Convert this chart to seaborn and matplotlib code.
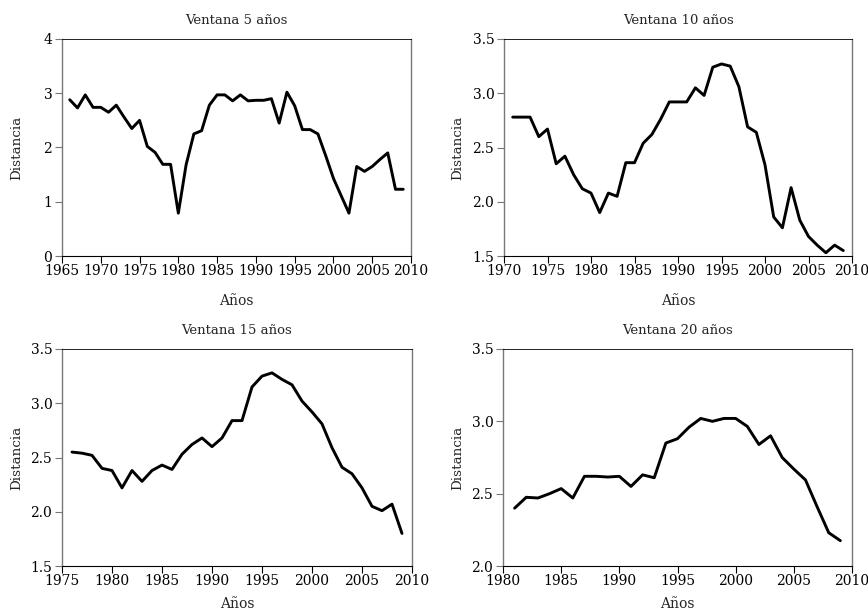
import numpy as np
import pandas as pd
import matplotlib
matplotlib.use("Agg")
import matplotlib.pyplot as plt
import seaborn as sns
from matplotlib.ticker import FormatStrFormatter

# ---- data ----
years_5 = list(range(1966, 2010))
dist_5 = [2.88, 2.73, 2.97, 2.74, 2.74, 2.65, 2.78, 2.56, 2.35, 2.50,
          2.02, 1.91, 1.69, 1.69, 0.79, 1.68, 2.25, 2.31, 2.78, 2.97,
          2.97, 2.86, 2.97, 2.86, 2.87, 2.87, 2.90, 2.45, 3.02, 2.77,
          2.33, 2.33, 2.25, 1.85, 1.43, 1.11, 0.79, 1.65, 1.56, 1.65,
          1.78, 1.90, 1.23, 1.23]

years_10 = list(range(1971, 2010))
dist_10 = [2.78, 2.78, 2.78, 2.60, 2.67, 2.35, 2.42, 2.25, 2.12, 2.08,
           1.90, 2.08, 2.05, 2.36, 2.36, 2.54, 2.62, 2.76, 2.92, 2.92,
           2.92, 3.05, 2.98, 3.24, 3.27, 3.25, 3.06, 2.69, 2.64, 2.34,
           1.86, 1.76, 2.13, 1.83, 1.68, 1.60, 1.53, 1.60, 1.55]

years_15 = list(range(1976, 2010))
dist_15 = [2.55, 2.54, 2.52, 2.40, 2.38, 2.22, 2.38, 2.28, 2.38, 2.43,
           2.39, 2.53, 2.62, 2.68, 2.60, 2.68, 2.84, 2.84, 3.15, 3.25,
           3.28, 3.22, 3.17, 3.02, 2.92, 2.81, 2.59, 2.41, 2.35, 2.22,
           2.05, 2.01, 2.07, 1.80]

years_20 = list(range(1981, 2010))
dist_20 = [2.40, 2.475, 2.47, 2.50, 2.535, 2.47, 2.62, 2.62, 2.615, 2.62,
           2.55, 2.63, 2.61, 2.85, 2.88, 2.96, 3.02, 3.00, 3.02, 3.02,
           2.965, 2.84, 2.90, 2.75, 2.67, 2.595, 2.41, 2.23, 2.175]

titles = ["Ventana 5 años", "Ventana 10 años", "Ventana 15 años", "Ventana 20 años"]
xlabel = "Años"
ylabel = "Distancia"

# ---- style ----
sns.set_style("ticks")
plt.rcParams['font.family'] = ['DejaVu Serif', 'Liberation Serif']
plt.rcParams['font.size'] = 10

fig = plt.figure(figsize=(8.68, 6.13), dpi=100)
W, H = 868, 613

def make_ax(l, r, t, b):
    return fig.add_axes([l / W, 1 - b / H, (r - l) / W, (b - t) / H])

boxes = [(62, 411, 39, 256), (504, 852, 39, 256),
         (62, 412, 349, 566), (503, 852, 349, 566)]
axes = [make_ax(*b) for b in boxes]
ylabel_right = [23, 464, 23, 464]
xlabelpads = [11.5, 11.5, 6.0, 6.0]

series = [(years_5, dist_5), (years_10, dist_10),
          (years_15, dist_15), (years_20, dist_20)]
xlims = [(1965, 2010), (1970, 2010), (1975, 2010), (1980, 2010)]
ylims = [(0, 4), (1.5, 3.5), (1.5, 3.5), (2.0, 3.5)]
yticks = [np.arange(0, 4.01, 1), np.arange(1.5, 3.51, 0.5),
          np.arange(1.5, 3.51, 0.5), np.arange(2.0, 3.51, 0.5)]
yfmt = ["%d", "%.1f", "%.1f", "%.1f"]

for i, ax in enumerate(axes):
    yrs, vals = series[i]
    xl, yl = xlims[i], ylims[i]
    df = pd.DataFrame({"Año": yrs, "Distancia": vals})
    sns.lineplot(data=df, x="Año", y="Distancia", ax=ax, color="black", linewidth=2.1)
    ax.set_xlim(*xl)
    ax.set_ylim(*yl)
    ax.set_xticks(np.arange(xl[0], xl[1] + 1, 5))
    ax.set_yticks(yticks[i])
    ax.yaxis.set_major_formatter(FormatStrFormatter(yfmt[i]))
    ax.set_title(titles[i], fontsize=9.5, pad=11)
    ax.set_xlabel(xlabel, fontsize=10, labelpad=xlabelpads[i])
    ax.set_ylabel(ylabel, fontsize=9.7)
    l, r, t, b = boxes[i]
    ax.yaxis.set_label_coords((ylabel_right[i] - l) / (r - l), 0.5)
    ax.tick_params(axis="both", direction="out", length=5, width=0.8,
                   labelsize=10, colors="black")
    ax.tick_params(axis="x", pad=1)
    ax.tick_params(axis="y", color="#777777", pad=2)
    for side in ["left", "right"]:
        ax.spines[side].set_color("#777777")
        ax.spines[side].set_linewidth(1.0)
    ax.spines["top"].set_color("black")
    ax.spines["top"].set_linewidth(0.6)
    ax.spines["bottom"].set_color("black")
    ax.spines["bottom"].set_linewidth(0.8)
    ax.set_facecolor("white")

fig.savefig("out.png", dpi=100, facecolor="white")
